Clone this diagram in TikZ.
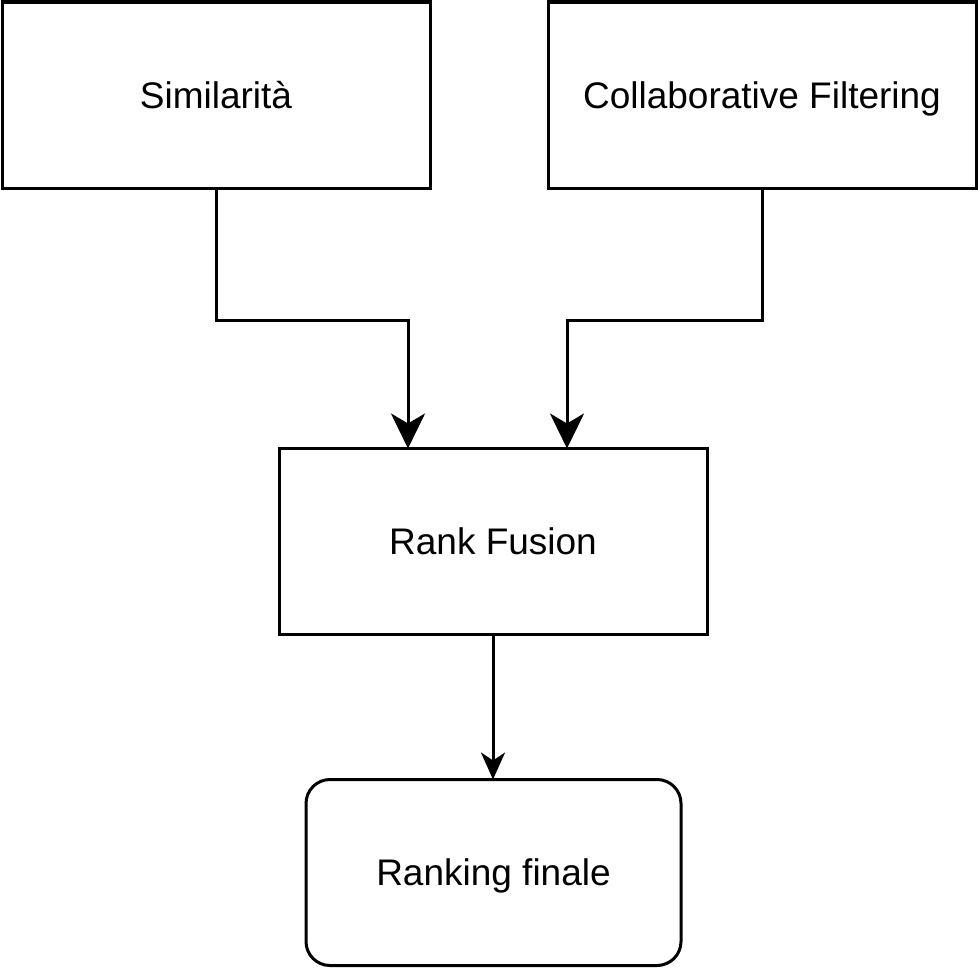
\documentclass[tikz,border=0pt]{standalone}
\usepackage{fontspec}
\setmainfont{Liberation Sans}
\usetikzlibrary{arrows.meta}

\begin{document}
\begin{tikzpicture}[x=0.5pt, y=-0.5pt,
    block/.style={draw, line width=1.5pt, outer sep=0pt,
                  minimum width=214pt, minimum height=93pt,
                  text height=15pt, text depth=2pt,
                  font=\fontsize{18.5}{22}\selectfont},
    bigarrow/.style={line width=1.5pt,
                  -{Stealth[length=17.5pt, width=17pt, inset=5pt]}},
    smallarrow/.style={line width=1.5pt,
                  -{Stealth[length=13.5pt, width=12pt, inset=4pt]}}]
    \useasboundingbox (0,0) rectangle (978,969);
    \node[block] (sim) at (216,95) {Similarità};
    \node[block] (cf) at (762,95) {Collaborative Filtering};
    \node[block] (rf) at (493,541.5) {Rank Fusion};
    \node[block, minimum width=187.5pt, rounded corners=12pt]
          (rk) at (493.5,872.5) {Ranking finale};
    \draw[bigarrow] (sim.south) -- ++(0,132) -| ([xshift=-42.5pt]rf.north);
    \draw[bigarrow] (cf.south) -- ++(0,132) -| ([xshift=37pt]rf.north);
    \draw[smallarrow] (rf.south) -- (rf.south |- rk.north);
  \end{tikzpicture}
\end{document}
